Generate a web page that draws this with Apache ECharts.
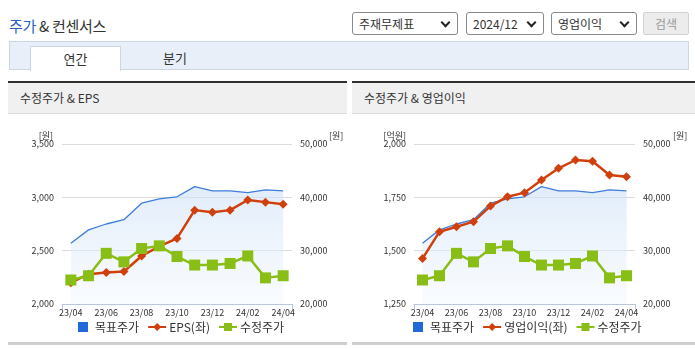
<!DOCTYPE html>
<html>
<head>
<meta charset="utf-8">
<script src="https://cdn.jsdelivr.net/npm/echarts@6/dist/echarts.min.js"></script>
<style>
  html, body { margin:0; padding:0; background:#fff; width:695px; height:349px; overflow:hidden;
    font-family:"Noto Sans CJK KR","Noto Sans",sans-serif; color:#333; }
  .abs { position:absolute; }
  .title { left:9px; top:15px; font-size:15px; color:#333; letter-spacing:-0.3px; }
  .title .b { color:#2a5fc8; }
  .sel { top:12px; height:22px; border:1px solid #8a8a8a; border-radius:3px; background:#fff;
    font-size:12px; line-height:22px; padding-left:6px; box-sizing:border-box; height:23px; }
  .sel .arr { position:absolute; right:8px; top:6px; width:5px; height:5px; border-right:2px solid #222;
    border-bottom:2px solid #222; transform:rotate(45deg); }
  .btn { left:643px; top:12px; width:46px; height:23px; box-sizing:border-box; background:#ececec;
    border:1px solid #d2d2d2; border-radius:2px; font-size:12px; color:#9a9a9a; text-align:center; line-height:21px; }
  .tabbar { left:9px; top:41px; width:680px; height:29px; box-sizing:border-box; background:#e9eff8;
    border:1px solid #cdd6e4; }
  .tab { top:46px; left:30px; width:91px; height:25px; box-sizing:border-box; background:#fff;
    border:1px solid #cdd6e4; border-bottom:none; font-size:13px; text-align:center; line-height:23px; }
  .tab2 { top:46px; left:150px; width:50px; font-size:13px; line-height:23px; text-align:center; }
  .phead { top:81px; height:33px; box-sizing:border-box; border-top:2px solid #2f2f2f; background:#f0f0f0;
    border-bottom:1px solid #dcdcdc; font-size:12px; line-height:30px; padding-left:12px; color:#333; }
  .pfoot { top:342px; height:3px; background:#cfcfcf; }
</style>
</head>
<body>
<div class="abs title"><span class="b">주가</span> &amp; 컨센서스</div>
<div class="abs sel" style="left:352px;width:106px;">주재무제표<span class="arr"></span></div>
<div class="abs sel" style="left:466px;width:78px;">2024/12<span class="arr"></span></div>
<div class="abs sel" style="left:551px;width:86px;">영업이익<span class="arr"></span></div>
<div class="abs btn">검색</div>
<div class="abs tabbar"></div>
<div class="abs tab">연간</div>
<div class="abs tab2">분기</div>

<div class="abs phead" style="left:8px;width:339px;">수정주가 &amp; EPS</div>
<div class="abs phead" style="left:352px;width:343px;">수정주가 &amp; 영업이익</div>

<div id="c1" class="abs" style="left:0px;top:115px;width:347px;height:227px;"></div>
<div id="c2" class="abs" style="left:347px;top:115px;width:348px;height:227px;"></div>

<div class="abs pfoot" style="left:8px;width:339px;"></div>
<div class="abs pfoot" style="left:352px;width:343px;"></div>

<script>
// ---- data ----
const categories = ['23/04','23/05','23/06','23/07','23/08','23/09','23/10','23/11','23/12','24/01','24/02','24/03','24/04'];
const targetPrice = [31400, 33900, 35000, 35800, 38900, 39700, 40100, 42000, 41200, 41200, 40900, 41400, 41200];
const adjPrice    = [24500, 25300, 29500, 27900, 30400, 30900, 28900, 27300, 27300, 27600, 29000, 24900, 25300];
const eps         = [2200, 2280, 2295, 2305, 2450, 2540, 2615, 2880, 2860, 2880, 2975, 2955, 2935];
const opProfit    = [1463, 1589, 1612, 1636, 1709, 1753, 1772, 1831, 1886, 1925, 1919, 1855, 1847];
const epsAxis = { min: 2000, max: 3500, interval: 500, name: '[원]' };
const opAxis  = { min: 1250, max: 2000, interval: 250, name: '[억원]' };
const priceAxis = { min: 20000, max: 50000, interval: 10000, name: '[원]' };

const FONT = '"Noto Sans CJK KR","Noto Sans",sans-serif';
const BLUE = '#2468d8', RED = '#d0400c', GREEN = '#89be16';
const squareIcon = 'path://M0,0L10,0L10,10L0,10Z';

function makeOption(leftAxis, leftData, leftName, gridLeft, gridWidth, rightNamePad, leftNamePad, legendLeft) {
  const axisLabel = { color:'#333', fontSize:9, fontFamily:FONT };
  return {
    animation:false,
    grid:{ left:gridLeft, top:29, width:gridWidth, height:160 },
    legend:{
      left:legendLeft, top:206, padding:0, itemGap:8, itemWidth:18, itemHeight:10,
      textStyle:{ fontSize:12, color:'#333', fontFamily:FONT, padding:[0,0,0,-2] },
      data:[ { name:'목표주가', icon:squareIcon }, { name:leftName }, { name:'수정주가' } ]
    },
    xAxis:{
      type:'category', data:categories, boundaryGap:true,
      axisLine:{ lineStyle:{ color:'#b9c7da', width:1 } },
      axisTick:{ show:true, interval:12, length:5, lineStyle:{ color:'#b9c7da' } },
      axisLabel:Object.assign({ interval:1, margin:4 }, axisLabel)
    },
    yAxis:[
      { type:'value', min:leftAxis.min, max:leftAxis.max, interval:leftAxis.interval,
        name:leftAxis.name, nameGap:4,
        nameTextStyle:{ color:'#333', fontSize:9, fontFamily:FONT, align:'right', padding:[0,leftNamePad,0,0] },
        axisLine:{ show:false }, axisTick:{ show:false },
        axisLabel:Object.assign({ margin:8 }, axisLabel),
        splitLine:{ lineStyle:{ color:'#dcdcdc' } } },
      { type:'value', min:priceAxis.min, max:priceAxis.max, interval:priceAxis.interval,
        name:priceAxis.name, nameGap:4,
        nameTextStyle:{ color:'#333', fontSize:9, fontFamily:FONT, align:'left', padding:[0,0,0,rightNamePad] },
        axisLine:{ show:false }, axisTick:{ show:false },
        axisLabel:Object.assign({ margin:8 }, axisLabel),
        splitLine:{ show:false } }
    ],
    series:[
      { name:'목표주가', type:'line', yAxisIndex:1, data:targetPrice, symbol:'none', symbolKeepAspect:true,
        itemStyle:{ color:BLUE },
        lineStyle:{ color:'#3f7ddc', width:1.3 },
        areaStyle:{ color:new echarts.graphic.LinearGradient(0,0,0,1,[
          { offset:0, color:'rgba(205,224,247,0.85)' },
          { offset:1, color:'rgba(240,246,253,0.6)' } ]) },
        z:1 },
      { name:leftName, type:'line', yAxisIndex:0, data:leftData, symbol:'diamond', symbolSize:9,
        itemStyle:{ color:RED }, lineStyle:{ color:RED, width:2.5 }, z:3 },
      { name:'수정주가', type:'line', yAxisIndex:1, data:adjPrice, symbol:'rect', symbolSize:11,
        itemStyle:{ color:GREEN }, lineStyle:{ color:GREEN, width:2.5 }, z:4 }
    ]
  };
}

const c1 = echarts.init(document.getElementById('c1'), null, { renderer:'canvas' });
c1.setOption(makeOption(epsAxis, eps, 'EPS(좌)', 62, 230, 37, 9, 78));
const c2 = echarts.init(document.getElementById('c2'), null, { renderer:'canvas' });
c2.setOption(makeOption(opAxis, opProfit, '영업이익(좌)', 67, 221, 38, 8, 66));
</script>
</body>
</html>
